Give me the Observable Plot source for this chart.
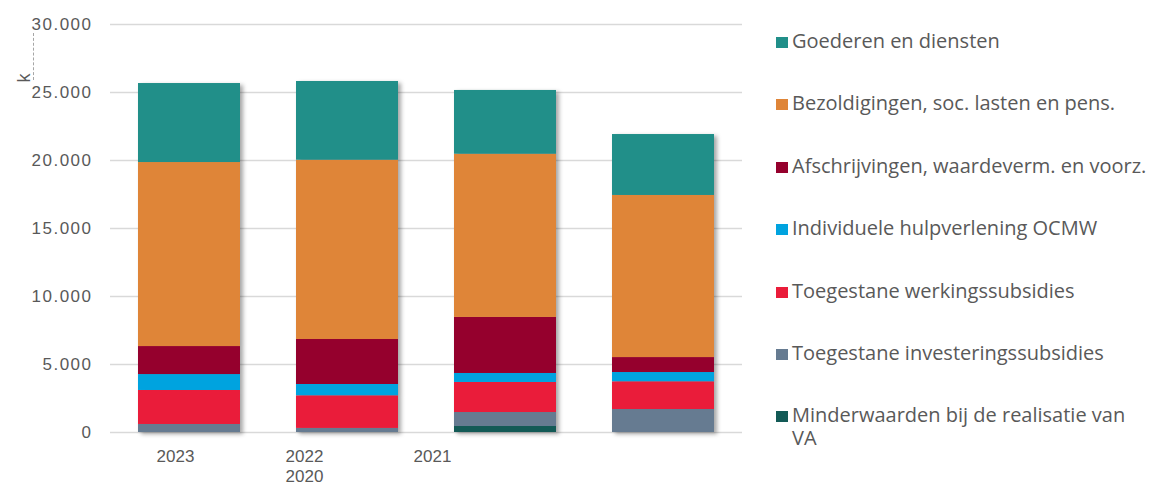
<!DOCTYPE html>
<html>
<head>
<meta charset="utf-8">
<script src="https://cdn.jsdelivr.net/npm/d3@7"></script>
<script src="https://cdn.jsdelivr.net/npm/@observablehq/plot@0.6"></script>
<style>
  html, body { margin: 0; padding: 0; background: #fff; }
  #wrap { position: relative; width: 1161px; height: 485px; overflow: hidden; }
  #chart { position: absolute; left: 0; top: 0; }
  #chart svg text { font-family: "Liberation Sans", Arial, sans-serif; }
  #dash { position: absolute; left: 33px; top: 33px; height: 47px; border-left: 1px dashed #a6a6a6; }
  #legend { position: absolute; left: 776px; top: 0; width: 385px; font-family: "Open Sans", Lato, sans-serif; font-size: 20px; color: #595959; }
  .item { position: absolute; left: 0; width: 385px; }
  .sw { position: absolute; left: 0; width: 12px; height: 11px; }
  .lab { position: absolute; left: 16px; line-height: 22.7px; white-space: nowrap; }
  .lab.wrap { white-space: normal; width: 345px; }
</style>
</head>
<body>
<div id="wrap">
  <div id="chart"></div>
  <div id="dash"></div>
  <div id="legend"></div>
</div>
<script>
// ---- data ----
const years = ["2023", "2022", "2021", "2020"];
const yearLabels = ["2023", "2022\n2020", "2021", ""];
const series = [
  "Minderwaarden bij de realisatie van VA",
  "Toegestane investeringssubsidies",
  "Toegestane werkingssubsidies",
  "Individuele hulpverlening OCMW",
  "Afschrijvingen, waardeverm. en voorz.",
  "Bezoldigingen, soc. lasten en pens.",
  "Goederen en diensten"
];
const colors = ["#135a56", "#667b91", "#ea1c3a", "#00a3df", "#95002d", "#df8538", "#218f89"];
const minderwaarden   = [0, 0, 440, 0];
const investerings    = [590, 300, 1030, 1690];
const werkings        = [2500, 2400, 2210, 2040];
const individuele     = [1170, 830, 660, 680];
const afschrijvingen  = [2060, 3310, 4120, 1100];
const bezoldigingen   = [13530, 13180, 12000, 11920];
const goederen        = [5810, 5790, 4690, 4480];
const yTicks = [0, 5000, 10000, 15000, 20000, 25000, 30000];
const labelShift = [-14, -43, -73, 0];

const seriesValues = [minderwaarden, investerings, werkings, individuele, afschrijvingen, bezoldigingen, goederen];
const table = [];
series.forEach((s, si) => years.forEach((y, yi) => table.push({year: y, series: s, value: seriesValues[si][yi]})));

const fmt = d => d3.format(",")(d).replace(/,/g, ".");

const xAxes = years.map((y, i) => Plot.axisX({
  ticks: [y], tickFormat: () => yearLabels[i], tickSize: 0, tickPadding: 15,
  dx: labelShift[i], label: null, lineHeight: 1.2, fontSize: 17, fill: "#595959"
}));

const chart = Plot.plot({
  width: 745, height: 485,
  marginTop: 24, marginBottom: 53, marginLeft: 110, marginRight: 3,
  style: {fontSize: "17px", color: "#595959", background: "transparent"},
  x: {domain: years, paddingInner: 0.354, paddingOuter: 0.177, label: null},
  y: {domain: [0, 30000], label: null},
  color: {domain: series, range: colors},
  marks: [
    Plot.gridY({ticks: yTicks, stroke: "#d9d9d9", strokeOpacity: 1, strokeWidth: 1.5}),
    Plot.barY(table, {x: "year", y: "value", fill: "series"}),
    Plot.axisY({ticks: yTicks, tickSize: 0, tickPadding: 18, tickFormat: fmt, label: null, fontSize: 17, fill: "#595959"}),
    ...xAxes,
    Plot.text(["k"], {frameAnchor: "top-left", text: d => d, rotate: -90, dx: -93, dy: 58, fontSize: 18, fill: "#595959"})
  ]
});
document.getElementById("chart").appendChild(chart);
chart.querySelectorAll('g[aria-label="bar"]').forEach(g => {
  g.style.filter = "drop-shadow(3px 2px 2px rgba(0,0,0,0.35))";
});
chart.querySelectorAll('g[aria-label="y-axis tick label"] text').forEach(t => {
  t.style.letterSpacing = "1.5px";
});

// legend
const legend = document.getElementById("legend");
series.slice().reverse().forEach((s, i) => {
  const c = colors[series.indexOf(s)];
  const item = document.createElement("div");
  item.className = "item";
  item.style.top = (30 + i * 62.4) + "px";
  const wrap = i === series.length - 1 ? " wrap" : "";
  item.innerHTML = `<div class="sw" style="background:${c};top:7px"></div><div class="lab${wrap}">${s}</div>`;
  legend.appendChild(item);
});
</script>
</body>
</html>
